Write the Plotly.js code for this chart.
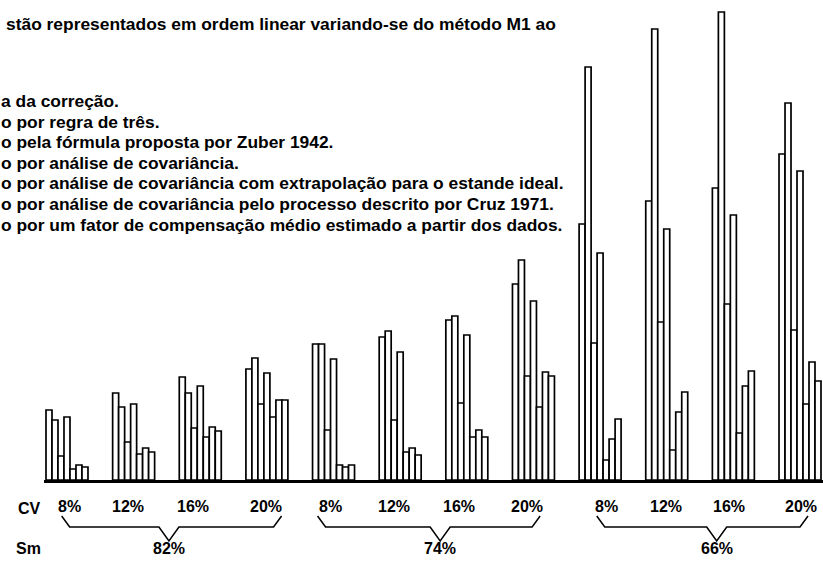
<!DOCTYPE html>
<html>
<head>
<meta charset="utf-8">
<script src="https://cdn.plot.ly/plotly-3.0.1.min.js"></script>
<style>html,body{margin:0;padding:0;background:#fff;}#chart{width:823px;height:561px;}</style>
</head>
<body>
<div id="chart"></div>
<script>
// Methods M1..M7, values for 12 groups (Sm 82%: CV 8,12,16,20; Sm 74%: ...; Sm 66%: ...)
var M1 = [70, 87, 103, 111, 136, 143, 160, 196, 256, 279, 292, 326];
var M2 = [60, 73, 87, 122, 136, 149, 164, 220, 413, 451, 468, 377];
var M3 = [24, 38, 52, 76, 50, 60, 77, 104, 137, 158, 176, 150];
var M4 = [63, 76, 94, 107, 121, 128, 145, 179, 227, 251, 265, 309];
var M5 = [11, 26, 43, 63, 15, 28, 43, 73, 20, 30, 47, 76];
var M6 = [15, 32, 53, 80, 13, 32, 50, 108, 41, 68, 94, 118];
var M7 = [13, 28, 49, 80, 15, 25, 43, 104, 61, 88, 109, 99];
var methods = ["M1", "M2", "M3", "M4", "M5", "M6", "M7"];
var cvLabels = ["8%", "12%", "16%", "20%", "8%", "12%", "16%", "20%", "8%", "12%", "16%", "20%"];
var smLabels = ["82%", "74%", "66%"];
var headLine = "stão representados em ordem linear variando-se do método M1 ao";
var legendLines = [
  "a da correção.",
  "o por regra de três.",
  "o pela fórmula proposta por Zuber 1942.",
  "o por análise de covariância.",
  "o por análise de covariância com extrapolação para o estande ideal.",
  "o por análise de covariância pelo processo descrito por Cruz 1971.",
  "o por um fator de compensação médio estimado a partir dos dados."
];

var series = [M1, M2, M3, M4, M5, M6, M7];
var groupX = cvLabels.map(function (_, i) { return i; });
var FONT = "Liberation Sans, Arial, sans-serif";
var PW = 779, PH = 480; // plot area size in px (for paper placement of text)
// small horizontal offsets (px) of the hand-set CV labels in the original
var cvShift = [3, -6, -7, -1, -3, -6, -8, -6, 6, -1, -4, 1];

var traces = series.map(function (vals, k) {
  return {
    type: "bar",
    name: methods[k],
    x: groupX,
    y: vals,
    marker: { color: "#ffffff", line: { color: "#000000", width: 1.7 } },
    hoverinfo: "skip"
  };
});

function px(xp) { return (xp - 44) / PW; }
function py(yp) { return 1 - yp / PH; }

var annotations = [];
annotations.push({
  xref: "paper", yref: "paper", x: px(4), y: py(24),
  xanchor: "left", yanchor: "middle", showarrow: false,
  text: headLine, font: { family: FONT, size: 17.4, color: "#000", weight: "bold" }
});
legendLines.forEach(function (t, i) {
  annotations.push({
    xref: "paper", yref: "paper", x: px(-1), y: py(101 + i * 20.6),
    xanchor: "left", yanchor: "middle", showarrow: false,
    text: t, font: { family: FONT, size: 17.4, color: "#000", weight: "bold" }
  });
});
annotations.push({
  xref: "paper", yref: "paper", x: px(29), y: py(508),
  xanchor: "center", yanchor: "middle", showarrow: false,
  text: "CV", font: { family: FONT, size: 16, color: "#000", weight: "bold" }
});
annotations.push({
  xref: "paper", yref: "paper", x: px(28), y: py(548),
  xanchor: "center", yanchor: "middle", showarrow: false,
  text: "Sm", font: { family: FONT, size: 16, color: "#000", weight: "bold" }
});
cvLabels.forEach(function (t, i) {
  annotations.push({
    xref: "x", yref: "paper", x: groupX[i], y: py(507), xshift: cvShift[i],
    xanchor: "center", yanchor: "middle", showarrow: false,
    text: t, font: { family: FONT, size: 16, color: "#000", weight: "bold" }
  });
});
var smCenters = [1.53, 5.6, 9.75];
smLabels.forEach(function (t, i) {
  annotations.push({
    xref: "x", yref: "paper", x: smCenters[i], y: py(548),
    xanchor: "center", yanchor: "middle", showarrow: false,
    text: t, font: { family: FONT, size: 16, color: "#000", weight: "bold" }
  });
});

// braces under each Sm block
var braceSpans = [[-0.08, 3.22], [3.76, 7.1], [7.95, 11.12]];
var shapes = braceSpans.map(function (s, i) {
  var a = s[0], b = s[1], m = smCenters[i];
  var yTop = py(516), yMid = py(527), yTip = py(541);
  var d = 0.12;
  var path = "M " + a + "," + yTop + " L " + (a + d) + "," + yMid +
    " L " + (m - 0.15) + "," + yMid + " L " + m + "," + yTip +
    " L " + (m + 0.15) + "," + yMid + " L " + (b - d) + "," + yMid +
    " L " + b + "," + yTop;
  return { type: "path", xref: "x", yref: "paper", path: path,
    line: { color: "#000", width: 1.5 } };
});

var layout = {
  width: 823, height: 561,
  margin: { l: 44, r: 0, t: 0, b: 81, pad: 0 },
  paper_bgcolor: "#fff", plot_bgcolor: "#fff",
  showlegend: false,
  barmode: "group", bargap: 0.37, bargroupgap: 0,
  xaxis: {
    type: "linear", range: [-0.345, 11.345],
    showgrid: false, zeroline: false,
    showline: true, linecolor: "#000", linewidth: 3,
    showticklabels: false, ticks: ""
  },
  yaxis: {
    range: [0, 480], visible: false, showgrid: false, zeroline: false
  },
  annotations: annotations,
  shapes: shapes
};

Plotly.newPlot("chart", traces, layout, { staticPlot: true, displayModeBar: false });
</script>
</body>
</html>
